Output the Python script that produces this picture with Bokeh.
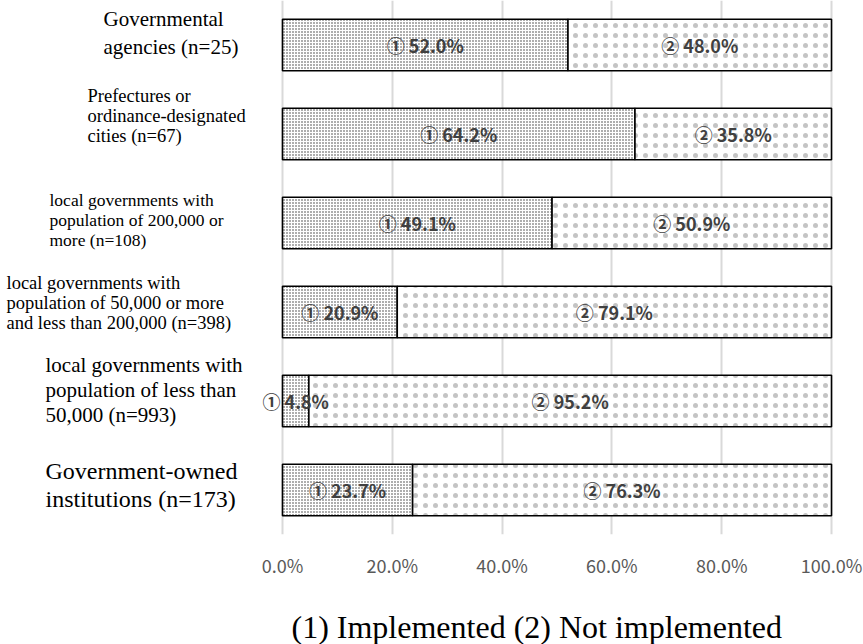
from bokeh.plotting import figure
from bokeh.layouts import column
from bokeh.models import Range1d, FactorRange, FixedTicker
from bokeh.core.properties import value
from bokeh.embed import file_html
from bokeh.resources import INLINE

# ---------------- data ----------------
categories = [
    "Governmental\nagencies (n=25)",
    "Prefectures or\nordinance-designated\ncities (n=67)",
    "local governments with\npopulation of 200,000 or\nmore (n=108)",
    "local governments with\npopulation of 50,000 or more\nand less than 200,000 (n=398)",
    "local governments with\npopulation of less than\n50,000 (n=993)",
    "Government-owned\ninstitutions (n=173)",
]
implemented = [52.0, 64.2, 49.1, 20.9, 4.8, 23.7]
not_implemented = [48.0, 35.8, 50.9, 79.1, 95.2, 76.3]
tick_values = [0, 20, 40, 60, 80, 100]
tick_labels = ["0.0%", "20.0%", "40.0%", "60.0%", "80.0%", "100.0%"]
series_marks = ["\u2460", "\u2461"]
legend_text = "(1) Implemented (2) Not implemented"

# ---------------- styles ----------------
W, H = 863, 644
FRAME_H = 537
MAIN_H = 580
NOTE_H = H - MAIN_H
ZERO_PX, FULL_PX = 282, 831
px_per_unit = (FULL_PX - ZERO_PX) / 100.0
x_start = -ZERO_PX / px_per_unit
x_end = 100 + (W - FULL_PX) / px_per_unit

label_px = [103, 87, 49, 6, 45, 45]
label_dy = [-12, -18, -3, -9, -11, -5]
label_size = [21, 18.5, 17.5, 18.5, 21, 24]
label_lh = [1.15, 1.02, 1.0, 0.98, 1.03, 1.05]
SERIF = "Liberation Serif"
SANS = "Noto Sans CJK JP"

p = figure(
    width=W, height=MAIN_H,
    x_range=Range1d(x_start, x_end),
    y_range=FactorRange(factors=list(reversed(categories))),
    y_axis_location=None,
    title=None,
    toolbar_location=None,
    output_backend="svg",
    min_border_left=0, min_border_right=0, min_border_top=0,
    min_border_bottom=MAIN_H - FRAME_H,
)
p.outline_line_color = None
p.background_fill_color = "white"
p.border_fill_color = "white"

p.ygrid.visible = False
p.xgrid.ticker = FixedTicker(ticks=tick_values)
p.xgrid.grid_line_color = "#d9d9d9"
p.xgrid.grid_line_width = 2

ax = p.xaxis[0]
ax.ticker = FixedTicker(ticks=tick_values)
ax.major_label_overrides = {v: l for v, l in zip(tick_values, tick_labels)}
ax.axis_line_color = None
ax.major_tick_line_color = None
ax.minor_tick_line_color = None
ax.major_label_standoff = 11
ax.major_label_text_font = SANS
ax.major_label_text_font_size = "18px"
ax.major_label_text_color = "#595959"

BAR_H = 0.58
left2 = implemented
right2 = [a + b for a, b in zip(implemented, not_implemented)]

p.hbar(y=categories, left=0, right=implemented, height=BAR_H,
       fill_color="white", line_color="black", line_width=1.6,
       hatch_pattern="dot", hatch_scale=3, hatch_weight=1.0, hatch_color="#333333")
p.hbar(y=categories, left=left2, right=right2, height=BAR_H,
       fill_color="white", line_color="black", line_width=1.6,
       hatch_pattern="dot", hatch_scale=10, hatch_weight=0.1, hatch_color="#c4c4c4")

# value labels
for vals, lefts, mark in [(implemented, [0] * len(implemented), series_marks[0]),
                          (not_implemented, implemented, series_marks[1])]:
    xs = [l + v / 2 for l, v in zip(lefts, vals)]
    txt = [f"{mark} {v:.1f}%" for v in vals]
    p.text(x=xs, y=categories, text=txt, text_align="center", text_baseline="middle",
           text_font=value(SANS), text_font_style="bold", text_font_size="18px",
           text_color="#404040")

# category labels
for cat, px, dy, fs, lh in zip(categories, label_px, label_dy, label_size, label_lh):
    p.text(x=[x_start], y=[cat], text=[cat], x_offset=px, y_offset=dy,
           text_align="left", text_baseline="middle",
           text_font=value(SERIF), text_font_size=f"{fs}px", text_line_height=lh,
           text_color="black")

# legend note below the chart
q = figure(
    width=W, height=NOTE_H,
    x_range=Range1d(0, W), y_range=Range1d(0, NOTE_H),
    x_axis_location=None, y_axis_location=None,
    title=None, toolbar_location=None, output_backend="svg",
    min_border_left=0, min_border_right=0, min_border_top=0, min_border_bottom=0,
)
q.outline_line_color = None
q.xgrid.visible = False
q.ygrid.visible = False
q.text(x=[291], y=[NOTE_H - (626 - MAIN_H)], text=[legend_text],
       text_align="left", text_baseline="middle",
       text_font=value(SERIF), text_font_size="32px", text_color="black")

layout = column(p, q, spacing=0)
open("out.html", "w").write(file_html(layout, INLINE))
